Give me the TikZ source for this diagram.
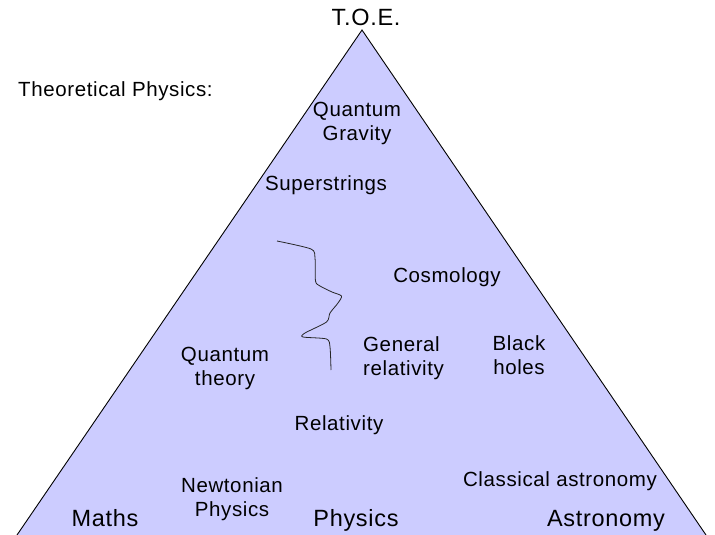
\documentclass[tikz,border=0pt]{standalone}
\usepackage{fontspec}
\setmainfont{Liberation Sans}[LetterSpace=3]
\begin{document}
\begin{tikzpicture}[x=1pt,y=-1pt,
  small/.style={font=\fontsize{20.5}{23.5}\selectfont, inner sep=0pt, anchor=base, align=center},
  big/.style={font=\fontsize{23.5}{26}\selectfont, inner sep=0pt, anchor=base},
  side/.style={line width=0.9pt, draw=black}]
\useasboundingbox (0,0) rectangle (715,535);
\coordinate (apex) at (362,30);
\coordinate (bl) at (17,535);
\coordinate (br) at (706,535);
\fill[fill={rgb,255:red,204;green,204;blue,255}] (bl) -- (apex) -- (br) -- cycle;
\draw[side] (bl) -- (apex) -- (br);
\node[big] (toe) at (366,26) {T.O.E.};
\node[small, anchor=base west] (tp) at (18,96.5) {Theoretical Physics:};
\node[small] (qg) at (357,140) {Quantum\\Gravity};
\node[small] (ss) at (326,190) {Superstrings};
\node[small] (cos) at (447,282) {Cosmology};
\node[small, align=left, anchor=base west] (gr) at (363,375) {General\\relativity};
\node[small] (bh) at (519,374) {Black\\holes};
\node[small] (qt) at (225,385) {Quantum\\theory};
\node[small] (rel) at (339,430) {Relativity};
\node[small] (ca) at (560,486) {Classical astronomy};
\node[small] (np) at (232,516) {Newtonian\\Physics};
\node[big] (maths) at (105,526) {Maths};
\node[big] (phys) at (356,526.5) {Physics};
\node[big] (astro) at (606,526) {Astronomy};
\draw[line width=0.8pt, black!85] plot[smooth, tension=0.45] coordinates {
  (277,241) (311,249) (315,258) (315.5,281) (320,286) (332,292) (341.5,296)
  (338,303) (330,313) (326.5,322) (305,333) (303,337) (326.5,339) (330,347) (331,370)};
\end{tikzpicture}
\end{document}
